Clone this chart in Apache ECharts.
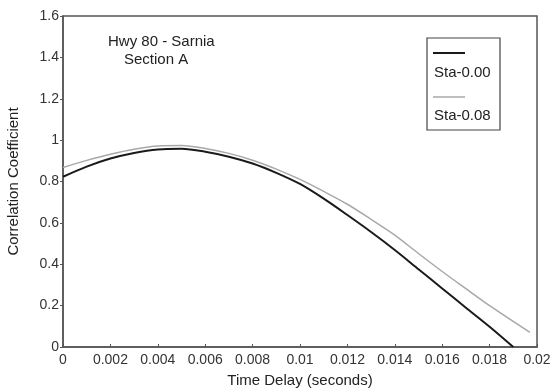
<!DOCTYPE html>
<html><head><meta charset="utf-8">
<script src="https://cdn.jsdelivr.net/npm/echarts@6/dist/echarts.min.js"></script>
<style>html,body{margin:0;padding:0;background:#fff}#c{width:553px;height:389px}</style>
</head><body><div id="c"></div>
<script>
var seriesNames = ['Sta-0.00', 'Sta-0.08'];
var sta000 = [[0,0.823],[0.001,0.872],[0.002,0.911],[0.003,0.938],[0.004,0.955],[0.005,0.958],[0.006,0.944],[0.007,0.92],[0.008,0.887],[0.009,0.842],[0.010,0.788],[0.011,0.717],[0.012,0.638],[0.013,0.556],[0.014,0.469],[0.015,0.376],[0.016,0.283],[0.017,0.19],[0.018,0.098],[0.0190,0]];
var sta008 = [[0,0.868],[0.001,0.902],[0.002,0.932],[0.003,0.956],[0.004,0.972],[0.005,0.974],[0.006,0.96],[0.007,0.936],[0.008,0.903],[0.009,0.86],[0.010,0.81],[0.011,0.752],[0.012,0.69],[0.013,0.617],[0.014,0.541],[0.015,0.452],[0.016,0.365],[0.017,0.282],[0.018,0.2],[0.0197,0.071]];
var titleLines = ['Hwy 80 - Sarnia', 'Section A'];
var xAxisName = 'Time Delay (seconds)';
var yAxisName = 'Correlation Coefficient';

var chart = echarts.init(document.getElementById('c'));
var font = 'Liberation Sans, Arial, sans-serif';
chart.setOption({
  animation: false,
  grid: {left: 63, right: 16, top: 16, bottom: 42, show: true, borderColor: '#555', borderWidth: 1.5,
         containLabel: false, outerBoundsMode: 'none'},
  xAxis: {
    type: 'value', min: 0, max: 0.02, interval: 0.002,
    name: xAxisName, nameLocation: 'middle', nameGap: 26,
    nameTextStyle: {fontFamily: font, fontSize: 15, color: '#222'},
    axisLine: {lineStyle: {color: '#555', width: 1.5}},
    axisTick: {inside: true, length: 3, lineStyle: {color: '#555'}},
    splitLine: {show: false},
    axisLabel: {fontFamily: font, fontSize: 14, color: '#333', margin: 6,
      formatter: function(v){ return v === 0 ? '0' : String(+v.toFixed(3)); }}
  },
  yAxis: {
    type: 'value', min: 0, max: 1.6, interval: 0.2,
    name: yAxisName, nameLocation: 'middle', nameGap: 42,
    nameTextStyle: {fontFamily: font, fontSize: 15, color: '#222'},
    axisLine: {show: true, lineStyle: {color: '#555', width: 1.5}},
    axisTick: {show: true, length: 3, lineStyle: {color: '#555'}},
    splitLine: {show: false},
    axisLabel: {fontFamily: font, fontSize: 14, color: '#333', margin: 4,
      formatter: function(v){ return String(+v.toFixed(1)); }}
  },
  series: [
    {name: seriesNames[0], type: 'line', data: sta000, smooth: 0.3, symbol: 'none',
     lineStyle: {color: '#1a1a1a', width: 2}},
    {name: seriesNames[1], type: 'line', data: sta008, smooth: 0.3, symbol: 'none',
     lineStyle: {color: '#a8a8a8', width: 1.5}}
  ],
  graphic: [
    {type: 'text', left: 108, top: 34, style: {text: titleLines[0], font: '15px ' + font, fill: '#222'}},
    {type: 'text', left: 124, top: 52, style: {text: titleLines[1], font: '15px ' + font, fill: '#222'}},
    {type: 'rect', shape: {x: 427, y: 38, width: 73, height: 92}, style: {fill: '#fff', stroke: '#444', lineWidth: 1.2}},
    {type: 'line', shape: {x1: 433, y1: 53, x2: 465, y2: 53}, style: {stroke: '#1a1a1a', lineWidth: 2}},
    {type: 'text', left: 434, top: 65, style: {text: seriesNames[0], font: '15px ' + font, fill: '#222'}},
    {type: 'line', shape: {x1: 433, y1: 97, x2: 465, y2: 97}, style: {stroke: '#a8a8a8', lineWidth: 1.5}},
    {type: 'text', left: 434, top: 108, style: {text: seriesNames[1], font: '15px ' + font, fill: '#222'}}
  ]
});
</script></body></html>
